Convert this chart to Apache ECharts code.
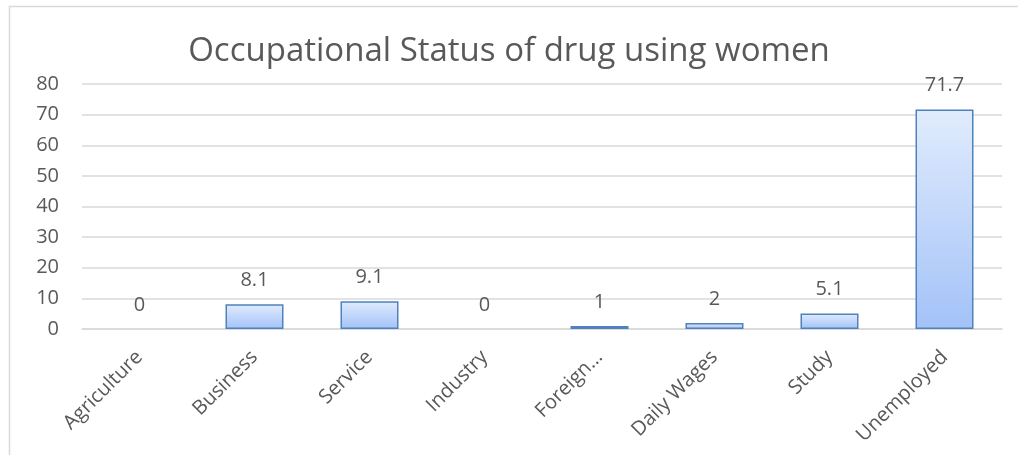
<!DOCTYPE html>
<html>
<head>
<meta charset="utf-8">
<script src="https://cdn.jsdelivr.net/npm/echarts@6/dist/echarts.min.js"></script>
<style>
  html, body { margin: 0; padding: 0; background: #fff; }
  #chart { width: 1018px; height: 455px; }
</style>
</head>
<body>
<div id="chart"></div>
<script>
const titleText = 'Occupational Status of drug using women'
const categories = ['Agriculture', 'Business', 'Service', 'Industry', 'Foreign…', 'Daily Wages', 'Study', 'Unemployed']
const values = [0, 8.1, 9.1, 0, 1, 2, 5.1, 71.7]
const yTicks = { min: 0, max: 80, interval: 10 }

const textGray = '#595959'
const lineGray = '#d9d9d9'
const font = 'Open Sans, sans-serif'

// zero bars get no outline, like the original
const barData = values.map(v => (v === 0 ? { value: v, itemStyle: { borderWidth: 0 } } : v))

const chart = echarts.init(document.getElementById('chart'))
chart.setOption({
  backgroundColor: '#fff',
  animation: false,
  textStyle: { fontFamily: font },
  title: {
    text: titleText,
    left: 'center',
    top: 30,
    textStyle: { color: textGray, fontSize: 33, fontWeight: 'normal', fontFamily: font },
  },
  graphic: [{
    type: 'rect',
    shape: { x: 9.5, y: 6.5, width: 1100, height: 600 },
    style: { fill: 'none', stroke: lineGray, lineWidth: 1.5 },
    silent: true,
  }],
  grid: { left: 82, right: 16, top: 84, bottom: 126 },
  xAxis: {
    type: 'category',
    data: categories,
    axisLine: { lineStyle: { color: lineGray, width: 1.5 } },
    axisTick: { show: false },
    axisLabel: { color: textGray, fontSize: 20, rotate: 45, margin: 25, interval: 0 },
  },
  yAxis: {
    type: 'value',
    min: yTicks.min,
    max: yTicks.max,
    interval: yTicks.interval,
    axisLine: { show: false },
    axisTick: { show: false },
    axisLabel: { color: textGray, fontSize: 20, margin: 23 },
    splitLine: { lineStyle: { color: lineGray, width: 1.5 } },
  },
  series: [{
    type: 'bar',
    data: barData,
    barWidth: 58,
    itemStyle: {
      color: new echarts.graphic.LinearGradient(0, 0, 0, 1, [
        { offset: 0, color: '#e1ecfd' },
        { offset: 1, color: '#a3c2f8' },
      ]),
      borderColor: '#4f81bd',
      borderWidth: 1.5,
    },
    label: {
      show: true,
      position: 'top',
      distance: 14,
      color: textGray,
      fontSize: 20,
    },
  }],
})
</script>
</body>
</html>
